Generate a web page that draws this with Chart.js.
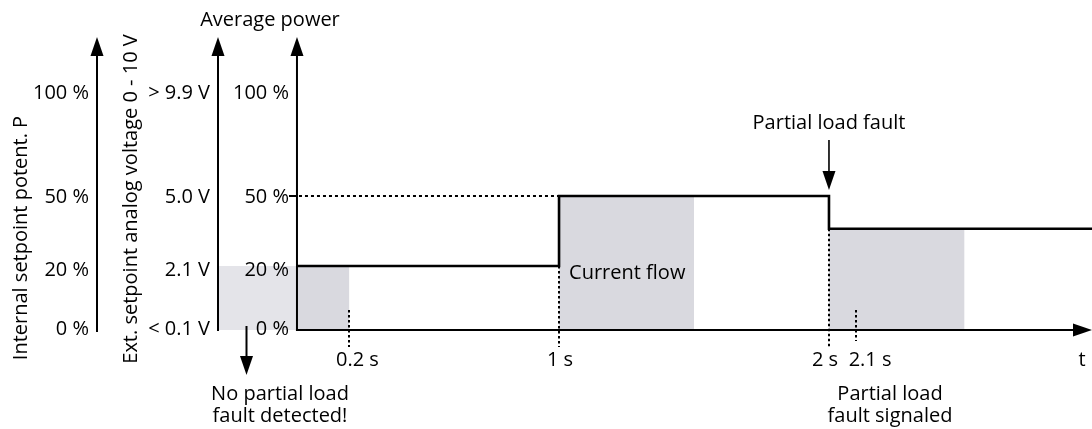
<!DOCTYPE html>
<html>
<head>
<meta charset="utf-8">
<script src="https://cdn.jsdelivr.net/npm/chart.js@4.4.1/dist/chart.umd.min.js"></script>
<style>
  html, body { margin: 0; padding: 0; background: #fff; }
  #wrap { width: 1092px; height: 429px; }
</style>
</head>
<body>
<div id="wrap"><canvas id="c" width="1092" height="429"></canvas></div>
<script>
// Average power over time (time in s, power in %)
const stepTimes = [0, 1, 2, 2.97];
const stepPower = [20, 50, 36, 36];

// Shaded intervals: start / end time and power level
const shadeStart = [-0.3, 0, 1, 2];
const shadeEnd   = [0, 0.2, 1.5, 2.5];
const shadeLevel = [20, 20, 50, 36];

// Levels shared by the three vertical axes
const levelTicks  = [0, 20, 50, 100];
const potLabels   = ['0 %', '20 %', '50 %', '100 %'];
const voltLabels  = ['< 0.1 V', '2.1 V', '5.0 V', '> 9.9 V'];
const powerLabels = ['0 %', '20 %', '50 %', '100 %'];

// Time marks on the t axis
const timeTicks  = [0.2, 1, 2, 2.1];
const timeLabels = ['0.2 s', '1 s', '2 s', '2.1 s'];

// ---- layout / style ----
const shadeFill = ['#e4e4e9', '#d9d9df', '#d9d9df', '#d9d9df'];
const timeLabelShift = [8, 1, -4, 14];
const levelLabelDrop = [5, 10, 7, 7];
const guideFromLevel = [null, 20, 36, null];   // guide starts at this power level, else short stub
const FONT = '20px "Open Sans", "Noto Sans", sans-serif';
const INK = '#000';

// Neither axis of the diagram is uniform; each scale maps through its own breakpoints.
const axisBreaks = {
  x: { values: [-0.3, 0, 1, 2, 2.97], fractions: [0, 0.0914, 0.3909, 0.6994, 1] },
  y: { values: [0, 20, 50, 100, 126], fractions: [0, 0.2184, 0.4573, 0.8123, 1] }
};

class PiecewiseScale extends Chart.LinearScale {
  static id = 'piecewise';
  static defaults = {};
  getPixelForValue(value) {
    if (value === null || value === undefined || isNaN(value)) return NaN;
    const { values: v, fractions: f } = axisBreaks[this.id];
    let i = 1;
    while (i < v.length - 1 && value > v[i]) i++;
    const t = (value - v[i - 1]) / (v[i] - v[i - 1]);
    return this.getPixelForDecimal(f[i - 1] + t * (f[i] - f[i - 1]));
  }
  getValueForPixel(pixel) {
    const d = this.getDecimalForPixel(pixel);
    const { values: v, fractions: f } = axisBreaks[this.id];
    let i = 1;
    while (i < f.length - 1 && d > f[i]) i++;
    const t = (d - f[i - 1]) / (f[i] - f[i - 1]);
    return v[i - 1] + t * (v[i] - v[i - 1]);
  }
}
Chart.register(PiecewiseScale);

function arrowHead(ctx, x, y, dir, len = 19, half = 6.5) {
  ctx.beginPath();
  if (dir === 'up') {
    ctx.moveTo(x, y); ctx.lineTo(x - half, y + len); ctx.lineTo(x + half, y + len);
  } else if (dir === 'down') {
    ctx.moveTo(x, y); ctx.lineTo(x - half, y - len); ctx.lineTo(x + half, y - len);
  } else {
    ctx.moveTo(x, y); ctx.lineTo(x - len, y - half); ctx.lineTo(x - len, y + half);
  }
  ctx.closePath();
  ctx.fill();
}

function line(ctx, x1, y1, x2, y2, w = 2, dash = []) {
  ctx.save();
  ctx.lineWidth = w;
  ctx.setLineDash(dash);
  ctx.beginPath();
  ctx.moveTo(x1, y1);
  ctx.lineTo(x2, y2);
  ctx.stroke();
  ctx.restore();
}

function label(ctx, s, x, y, align = 'center') {
  ctx.textAlign = align;
  ctx.textBaseline = 'alphabetic';
  ctx.fillText(s, x, y);
}

const diagram = {
  id: 'diagram',
  afterDatasetsDraw(chart) {
    const { ctx, scales: { x, y } } = chart;
    const x0 = x.getPixelForValue(0);
    const yb = y.getPixelForValue(0);
    const yTop = chart.chartArea.top;
    const axisPot = 97, axisVolt = x.left + 1;

    ctx.save();
    ctx.strokeStyle = INK;
    ctx.fillStyle = INK;

    // dotted reference at 50 % up to the rise
    const y50 = Math.round(y.getPixelForValue(50));
    line(ctx, x0 - 8, y50, x0, y50, 2);
    line(ctx, x0 + 2, y50, x.getPixelForValue(1), y50, 2, [3, 3]);

    // dotted time guides
    timeTicks.forEach((t, i) => {
      const px = Math.round(x.getPixelForValue(t));
      const from = guideFromLevel[i] !== null ? y.getPixelForValue(guideFromLevel[i]) : yb - 20;
      const to = guideFromLevel[i] !== null ? yb + 17 : yb + (i === 0 ? 17 : 11);
      line(ctx, px, from, px, to, 2, [2.5, 2.5]);
    });

    // vertical axes with arrows
    [[axisPot, yb + 2], [axisVolt, yb + 1], [x0, yb + 1]].forEach(([ax, bottom]) => {
      line(ctx, ax, bottom, ax, yTop + 12, 2);
      arrowHead(ctx, ax, yTop, 'up');
    });

    // time axis
    line(ctx, x0 - 1, yb, x.right - 12, yb, 2);
    arrowHead(ctx, x.right, yb, 'right');

    // axis labels
    ctx.font = FONT;
    levelTicks.forEach((v, i) => {
      const py = y.getPixelForValue(v) + levelLabelDrop[i];
      label(ctx, potLabels[i], axisPot - 8, py, 'right');
      label(ctx, voltLabels[i], axisVolt - 8, py, 'right');
      label(ctx, powerLabels[i], x0 - 8, py, 'right');
    });
    timeTicks.forEach((t, i) => {
      label(ctx, timeLabels[i], x.getPixelForValue(t) + timeLabelShift[i], yb + 36);
    });
    label(ctx, 't', x.right - 10, yb + 36);

    label(ctx, 'Average power', x0 - 27, 26);

    ctx.save();
    ctx.textAlign = 'center';
    ctx.textBaseline = 'middle';
    ctx.translate(21, 238);
    ctx.rotate(-Math.PI / 2);
    ctx.fillText('Internal setpoint potent. P', 0, 0);
    ctx.restore();
    ctx.save();
    ctx.textAlign = 'center';
    ctx.textBaseline = 'middle';
    ctx.translate(131, 199);
    ctx.rotate(-Math.PI / 2);
    ctx.fillText('Ext. setpoint analog voltage 0 - 10 V', 0, 0);
    ctx.restore();

    // annotations
    label(ctx, 'Current flow', x.getPixelForValue(1) + 10, 279, 'left');

    const xFault = x.getPixelForValue(2);
    label(ctx, 'Partial load fault', xFault, 129);
    line(ctx, xFault, 140, xFault, 175, 1.6);
    arrowHead(ctx, xFault, 190, 'down');

    const xNo = 246.5;
    line(ctx, xNo, yb - 4, xNo, yb + 28, 2);
    arrowHead(ctx, xNo, yb + 45, 'down');
    label(ctx, 'No partial load', 280, 400);
    label(ctx, 'fault detected!', 280, 422);

    label(ctx, 'Partial load', 890, 400);
    label(ctx, 'fault signaled', 890, 422);

    ctx.restore();
  }
};

const datasets = [{
  data: stepTimes.map((t, i) => ({ x: t, y: stepPower[i] })),
  stepped: 'before',
  borderColor: '#000',
  borderWidth: 2.6,
  pointRadius: 0,
  fill: false,
  order: 0
}].concat(shadeStart.map((s, i) => ({
  data: [{ x: s, y: shadeLevel[i] }, { x: shadeEnd[i], y: shadeLevel[i] }],
  borderColor: 'rgba(0,0,0,0)',
  borderWidth: 0,
  pointRadius: 0,
  fill: 'origin',
  backgroundColor: shadeFill[i],
  order: 1
})));

new Chart(document.getElementById('c'), {
  type: 'line',
  data: { datasets },
  options: {
    responsive: false,
    animation: false,
    events: [],
    layout: { padding: { left: 217, right: 0, top: 37, bottom: 99 } },
    plugins: { legend: { display: false }, tooltip: { enabled: false } },
    scales: {
      x: { type: 'piecewise', min: -0.3, max: 2.97, display: false },
      y: { type: 'piecewise', min: 0, max: 126, display: false }
    }
  },
  plugins: [diagram]
});
</script>
</body>
</html>
